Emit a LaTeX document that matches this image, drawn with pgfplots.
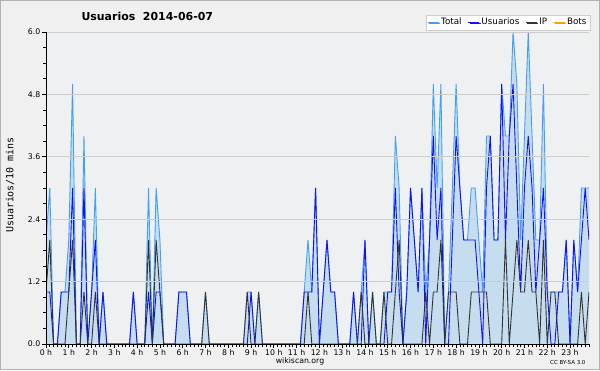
\documentclass[border=0pt]{standalone}
\usepackage{pgfplots}
\pgfplotsset{compat=1.18}
\usepackage{pgfplotstable}
\usepackage{fontspec}
\setmainfont{DejaVu Sans}
\setmonofont{DejaVu Sans Mono}
\usetikzlibrary{shadows}

\definecolor{totline}{HTML}{3FA0F5}
\definecolor{totfill}{HTML}{C6DDF0}
\definecolor{usr}{HTML}{1010FF}
\definecolor{ipc}{HTML}{333333}
\definecolor{botc}{HTML}{FF9A1A}
\definecolor{bgout}{HTML}{F0F0F0}
\definecolor{bgin}{HTML}{EEF0F2}
\definecolor{gridc}{HTML}{CCCCCC}

\pgfplotstableread{
i T U IP B
0 2 1 1 0
1 3 1 2 0
2 0 0 0 0
3 0 0 0 0
4 1 1 0 0
5 1 1 0 0
6 2 1 1 0
7 5 3 2 0
8 0 0 0 0
9 0 0 0 0
10 4 3 1 0
11 0 0 0 0
12 1 1 0 0
13 3 2 1 0
14 0 0 0 0
15 1 1 0 0
16 0 0 0 0
17 0 0 0 0
18 0 0 0 0
19 0 0 0 0
20 0 0 0 0
21 0 0 0 0
22 0 0 0 0
23 1 1 0 0
24 0 0 0 0
25 0 0 0 0
26 0 0 0 0
27 3 1 2 0
28 0 0 0 0
29 3 1 2 0
30 2 1 1 0
31 0 0 0 0
32 0 0 0 0
33 0 0 0 0
34 0 0 0 0
35 1 1 0 0
36 1 1 0 0
37 1 1 0 0
38 0 0 0 0
39 0 0 0 0
40 0 0 0 0
41 0 0 0 0
42 1 0 1 0
43 0 0 0 0
44 0 0 0 0
45 0 0 0 0
46 0 0 0 0
47 0 0 0 0
48 0 0 0 0
49 0 0 0 0
50 0 0 0 0
51 0 0 0 0
52 0 0 0 0
53 1 0 1 0
54 1 1 0 0
55 0 0 0 0
56 1 0 1 0
57 0 0 0 0
58 0 0 0 0
59 0 0 0 0
60 0 0 0 0
61 0 0 0 0
62 0 0 0 0
63 0 0 0 0
64 0 0 0 0
65 0 0 0 0
66 0 0 0 0
67 0 0 0 0
68 1 1 0 0
69 2 1 1 0
70 1 1 0 0
71 3 3 0 0
72 0 0 0 0
73 1 1 0 0
74 2 2 0 0
75 1 1 0 0
76 1 1 0 0
77 0 0 0 0
78 0 0 0 0
79 0 0 0 0
80 0 0 0 0
81 1 1 0 0
82 0 0 0 0
83 1 0 1 0
84 2 2 0 0
85 0 0 0 0
86 1 0 1 0
87 0 0 0 0
88 0 0 0 0
89 1 0 1 0
90 1 1 0 0
91 1 1 0 0
92 4 3 1 0
93 3 1 2 0
94 0 0 0 0
95 1 1 0 0
96 3 3 0 0
97 2 2 0 0
98 1 1 0 0
99 3 3 0 0
100 1 0 1 0
101 2 2 0 0
102 5 4 1 0
103 3 2 1 0
104 5 3 2 0
105 0 0 0 0
106 1 0 1 0
107 3 2 1 0
108 5 4 1 0
109 3 3 0 0
110 2 2 0 0
111 2 2 0 0
112 3 2 1 0
113 3 2 1 0
114 2 1 1 0
115 1 0 1 0
116 4 3 1 0
117 4 4 0 0
118 2 2 0 0
119 2 2 0 0
120 5 5 0 0
121 4 2 2 0
122 4 4 0 0
123 6 5 1 0
124 5 3 2 0
125 2 1 1 0
126 4 3 1 0
127 6 4 2 0
128 4 3 1 0
129 2 1 1 0
130 2 2 0 0
131 5 3 2 0
132 1 1 0 0
133 1 0 1 0
134 1 0 1 0
135 1 1 0 0
136 1 1 0 0
137 2 2 0 0
138 0 0 0 0
139 2 2 0 0
140 1 1 0 0
141 3 2 1 0
142 3 3 0 0
143 3 2 1 0
}\data

\begin{document}
\begin{tikzpicture}[x=1bp,y=1bp]
\useasboundingbox (0,0) rectangle (600,370);
\fill[bgout] (0,0) rectangle (600,370);
\draw[gray!60, line width=1.2bp] (0.6,0.6) rectangle (599.4,369.4);
\begin{axis}[
  at={(46bp,26bp)}, anchor=south west,
  scale only axis, width=543bp, height=312bp,
  xmin=0, xmax=143, ymin=0, ymax=6,
  axis background/.style={fill=bgin},
  axis x line*=bottom, axis y line*=left,
  axis line style={black, line width=0.9bp, -},
  axis on top,
  xtick={0,6,12,18,24,30,36,42,48,54,60,66,72,78,84,90,96,102,108,114,120,126,132,138},
  xticklabels={0 h,1 h,2 h,3 h,4 h,5 h,6 h,7 h,8 h,9 h,10 h,11 h,12 h,13 h,14 h,15 h,16 h,17 h,18 h,19 h,20 h,21 h,22 h,23 h},
  minor xtick={0,1,...,143},
  ytick={0,1.2,2.4,3.6,4.8,6},
  yticklabels={0.0,1.2,2.4,3.6,4.8,6.0},
  minor ytick={0.3,0.6,0.9,1.5,1.8,2.1,2.7,3.0,3.3,3.9,4.2,4.5,5.1,5.4,5.7},
  ymajorgrids, major grid style={gridc, line width=0.8bp},
  tick align=outside, major tick length=4bp, minor tick length=3bp,
  tick style={black, line width=0.7bp},
  ticklabel style={font=\fontsize{7.8}{8}\selectfont, inner sep=1.5bp},
  legend columns=4,
  legend style={at={(1.002,1.006)}, anchor=south east, draw=gray!40, fill=white,
    font=\fontsize{8.8}{9}\selectfont, inner sep=1.5bp,
    drop shadow={shadow xshift=1.5bp, shadow yshift=-1.5bp, fill=gray!90, opacity=1},
    /tikz/every even column/.append style={column sep=4bp}},
  legend image code/.code={\draw[#1, line width=0.9bp] (0bp,0bp) -- (11bp,0bp);},
]
\addplot[draw=none, fill=totfill, forget plot] table[x=i, y=T] {\data} \closedcycle;
\addplot[totline, line width=0.9bp] table[x=i, y=T] {\data};
\addlegendentry{Total}
\addplot[usr, line width=0.9bp] table[x=i, y=U] {\data};
\addlegendentry{Usuarios}
\addplot[ipc, line width=0.9bp] table[x=i, y=IP] {\data};
\addlegendentry{IP}
\addplot[botc, line width=0.9bp] table[x=i, y=B] {\data};
\addlegendentry{Bots}
\end{axis}
\node[font=\bfseries\fontsize{11}{13}\selectfont, anchor=base west] at (78,350) {Usuarios\ \ 2014-06-07};
\node[font=\ttfamily\fontsize{10}{11}\selectfont, rotate=90] at (10,185) {Usuarios/10 mins};
\node[font=\fontsize{7.8}{8}\selectfont] at (300,9) {wikiscan.org};
\node[font=\fontsize{5.5}{6}\selectfont, anchor=east] at (589,8) {CC BY-SA 3.0};
\end{tikzpicture}
\end{document}
